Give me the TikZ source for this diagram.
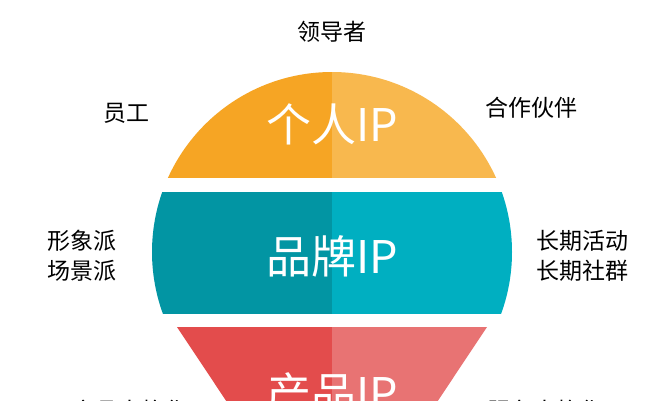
\documentclass[tikz,border=0pt]{standalone}
\usepackage{fontspec}
\setmainfont{Noto Sans CJK SC}
\definecolor{orL}{HTML}{F6A524}
\definecolor{orR}{HTML}{F8B84E}
\definecolor{teL}{HTML}{0295A3}
\definecolor{teR}{HTML}{00AFC1}
\definecolor{reL}{HTML}{E34C4C}
\definecolor{reR}{HTML}{E87373}
\begin{document}
\begin{tikzpicture}[x=1pt,y=-1pt,
  lbl/.style={font=\fontsize{23}{28}\selectfont,align=center,text=black},
  big/.style={font=\fontsize{45}{50}\selectfont,text=white}]
\useasboundingbox (0,0) rectangle (672,400);
\clip (0,0) rectangle (672,400);
\begin{scope}
  \clip (332,252) circle (180);
  \fill[orL] (140,60) rectangle (332,178);
  \fill[orR] (332,60) rectangle (520,178);
  \fill[teL] (140,192) rectangle (332,314);
  \fill[teR] (332,192) rectangle (520,314);
\end{scope}
\begin{scope}
  \clip (177,327) -- (487,327) -- (332,560) -- cycle;
  \fill[reL] (140,327) rectangle (332,560);
  \fill[reR] (332,327) rectangle (520,560);
\end{scope}
\node[big] (p) at (332,124) {个人IP};
\node[big] (b) at (332,256) {品牌IP};
\node[big] (c) at (332,394) {产品IP};
\node[lbl] (t1) at (332,32) {领导者};
\node[lbl] (t2) at (126,113) {员工};
\node[lbl] (t3) at (531,108) {合作伙伴};
\node[lbl] (t4) at (82,256) {形象派\\[2pt]场景派};
\node[lbl] (t5) at (582,256) {长期活动\\[2pt]长期社群};
\node[lbl] (t6) at (130,411) {产品人格化};
\node[lbl] (t7) at (545,411) {服务人格化};
\end{tikzpicture}
\end{document}
